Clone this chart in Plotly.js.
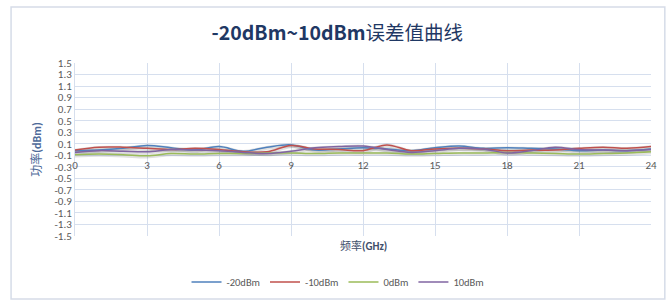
<!DOCTYPE html>
<html>
<head>
<meta charset="utf-8">
<script src="https://cdn.plot.ly/plotly-3.0.1.min.js"></script>
<style>
html,body{margin:0;padding:0;background:#fff;}
#chart{width:672px;height:301px;}
</style>
</head>
<body>
<div id="chart"></div>
<script>
const freq = [0,1,2,3,4,5,6,7,8,9,10,11,12,13,14,15,16,17,18,19,20,21,22,23,24];
const seriesNames = ["-20dBm","-10dBm","0dBm","10dBm"];
const m20 = [-0.02,-0.01,0.02,0.07,0.03,-0.01,0.05,-0.03,0.04,0.08,-0.01,0.01,0.03,0.01,-0.02,0.03,0.06,0.02,0.03,0.02,0.01,-0.02,-0.01,-0.02,0.01];
const m10 = [-0.01,0.04,0.04,0.02,0.0,0.02,0.0,-0.04,-0.04,0.07,0.01,0.0,-0.02,0.08,-0.02,0.01,0.02,0.01,-0.02,-0.01,-0.01,0.02,0.04,0.02,0.05];
const p0  = [-0.09,-0.08,-0.09,-0.11,-0.07,-0.08,-0.07,-0.07,-0.06,-0.06,-0.07,-0.06,-0.06,-0.06,-0.08,-0.07,-0.06,-0.06,-0.05,-0.06,-0.07,-0.08,-0.07,-0.06,-0.04];
const p10 = [-0.05,-0.02,-0.03,-0.04,0.0,-0.01,-0.02,-0.05,-0.07,-0.03,0.03,0.05,0.06,0.0,-0.05,-0.02,0.02,0.01,-0.06,-0.02,0.04,0.0,-0.01,-0.02,0.0];
const xTicks = [0,3,6,9,12,15,18,21,24];
const yTicks = [1.5,1.3,1.1,0.9,0.7,0.5,0.3,0.1,-0.1,-0.3,-0.5,-0.7,-0.9,-1.1,-1.3,-1.5];
const colors = ["#4F81BD","#C0504D","#9BBB59","#8064A2"];
const allSeries = [m20,m10,p0,p10];

const txt = "#595959";
const font = "Carlito, Calibri, 'Noto Sans', 'Noto Sans CJK SC', sans-serif";

const traces = [];
allSeries.forEach((s,i)=>{
  traces.push({x:freq,y:s.map(v=>v-0.012),mode:"lines",line:{shape:"spline",smoothing:1,color:"rgba(0,0,0,0.12)",width:4},hoverinfo:"skip",showlegend:false});
});
allSeries.forEach((s,i)=>{
  traces.push({x:freq,y:s,name:seriesNames[i],mode:"lines",line:{shape:"spline",smoothing:1,color:colors[i],width:1.5}});
});

const layout = {
  width:672,height:301,
  margin:{l:75,r:21,t:63,b:65,autoexpand:false},
  paper_bgcolor:"#fff",plot_bgcolor:"#fff",
  font:{family:font,size:11,color:txt},
  title:{text:"<b>-20dBm~10dBm</b>误差值曲线",x:0.502,xanchor:"center",xref:"container",y:0.89,yref:"container",yanchor:"middle",
         font:{family:"'Noto Sans CJK SC', sans-serif",size:19.5,color:"#1F3864"}},
  xaxis:{range:[0,24],tickvals:xTicks,ticktext:xTicks.map(String),showgrid:true,gridcolor:"#D6DFEE",gridwidth:1,
         zeroline:false,showline:false,ticks:"",anchor:"free",position:0.5,tickfont:{size:11,color:txt},automargin:false,ticklabelstandoff:7},
  yaxis:{range:[-1.5,1.5],tickvals:yTicks,ticktext:yTicks.map(v=>v.toFixed(1)),showgrid:true,gridcolor:"#D6DFEE",gridwidth:1,
         zeroline:false,showline:true,linecolor:"#D6DFEE",ticks:"",tickfont:{size:11,color:txt},automargin:false,
         title:{text:"功率<b>(dBm)</b>",font:{size:12,color:"#4F6B9A"},standoff:10}},
  showlegend:true,
  legend:{orientation:"h",x:0.503,xref:"container",xanchor:"center",y:0.063,yref:"container",yanchor:"middle",font:{size:10.5,color:txt},itemwidth:28,tracegroupgap:0},
  annotations:[{text:"频率<b>(GHz)</b>",xref:"paper",yref:"paper",x:0.5,y:-0.005,xanchor:"center",yanchor:"top",showarrow:false,
                font:{size:11,color:"#3F4F6B"}}],
  shapes:[{type:"rect",xref:"paper",yref:"paper",x0:-0.111,x1:1.024,y0:-0.364,y1:1.324,line:{color:"#D6DCE8",width:1.5},layer:"below"}]
};
Plotly.newPlot("chart",traces,layout,{displayModeBar:false,staticPlot:true});
</script>
</body>
</html>
